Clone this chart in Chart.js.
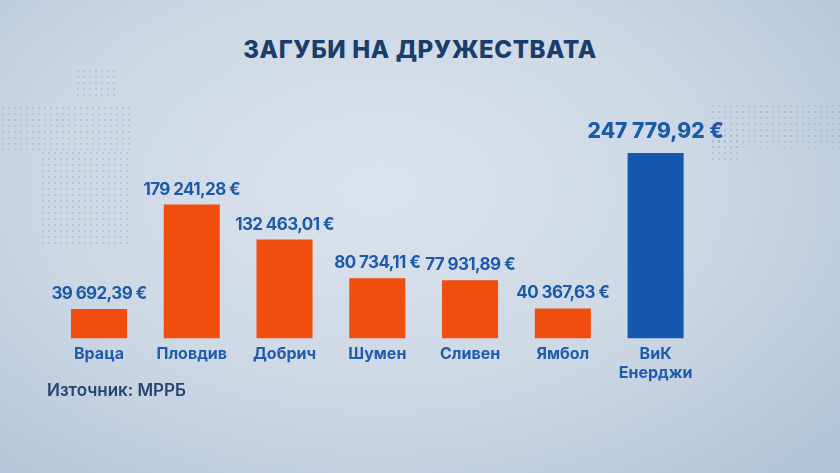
<!DOCTYPE html>
<html lang="bg">
<head>
<meta charset="UTF-8">
<title>Загуби на дружествата</title>
<script src="https://cdn.jsdelivr.net/npm/chart.js"></script>
<style>
  html, body { margin: 0; padding: 0; }
  body {
    width: 840px; height: 473px; overflow: hidden; position: relative;
    background: radial-gradient(ellipse 70% 80% at 45% 40%, #dae2ec 0%, #cdd8e5 55%, #b3c5da 100%);
    font-family: Inter, "Open Sans", sans-serif;
  }
  .dots {
    position: absolute;
    background-image: radial-gradient(circle, rgba(140,162,190,0.35) 0.8px, transparent 1.2px);
    background-size: 6px 6px;
  }
  #titulo {
    position: absolute; top: 35px; left: 0; width: 840px; text-align: center;
    font-size: 24px; font-weight: 800; color: #1a3e6c; letter-spacing: 0.6px;
  }
  #fonte {
    position: absolute; left: 47px; top: 380px;
    font-size: 17px; font-weight: 600; color: #27456d;
  }
  .grafico { position: absolute; left: 0; top: 0; width: 840px; height: 473px; }
</style>
</head>
<body>
  <div class="dots" style="left:0;top:105px;width:130px;height:45px"></div>
  <div class="dots" style="left:40px;top:150px;width:90px;height:95px"></div>
  <div class="dots" style="left:75px;top:68px;width:40px;height:30px"></div>
  <div class="dots" style="left:710px;top:103px;width:130px;height:45px"></div>
  <div class="dots" style="left:710px;top:132px;width:30px;height:30px"></div>
  <div id="titulo">ЗАГУБИ НА ДРУЖЕСТВАТА</div>
  <div class="grafico"><canvas id="myChart"></canvas></div>
  <div id="fonte">Източник: МРРБ</div>
<script>
const categorias = ['Враца', 'Пловдив', 'Добрич', 'Шумен', 'Сливен', 'Ямбол', ['ВиК', 'Енерджи']]
const valores = [39692.39, 179241.28, 132463.01, 80734.11, 77931.89, 40367.63, 247779.92]
const rotulos = ['39 692,39 €', '179 241,28 €', '132 463,01 €', '80 734,11 €', '77 931,89 €', '40 367,63 €', '247 779,92 €']

const laranja = '#f04e0e'
const azul = '#1458ad'
const cores = valores.map((v, i) => i == valores.length - 1 ? azul : laranja)

// escreve os valores em cima das barras
const valoresPlugin = {
  id: 'valores',
  afterDatasetsDraw(chart) {
    const c = chart.ctx
    const meta = chart.getDatasetMeta(0)
    c.save()
    c.textAlign = 'center'
    c.textBaseline = 'middle'
    meta.data.forEach((bar, i) => {
      const ultimo = i == meta.data.length - 1
      c.font = ultimo ? '800 21px Inter' : '700 17px Inter'
      c.letterSpacing = ultimo ? '0px' : '-0.6px'
      c.fillStyle = '#1d5aa8'
      c.fillText(rotulos[i], bar.x, bar.y - (ultimo ? 21 : 15))
    })
    c.restore()
  }
}

const ctx = document.getElementById('myChart')
const grafico = new Chart(ctx, {
  type: 'bar',
  data: {
    labels: categorias,
    datasets: [{
      data: valores,
      backgroundColor: cores,
      borderWidth: 0,
      barPercentage: 0.604,
      categoryPercentage: 1
    }]
  },
  options: {
    responsive: true,
    maintainAspectRatio: false,
    animation: false,
    layout: { padding: { left: 52.6, right: 138, top: 114, bottom: 84 } },
    plugins: { legend: { display: false }, tooltip: { enabled: false } },
    scales: {
      x: {
        grid: { display: false, drawTicks: false },
        border: { display: false },
        ticks: {
          color: '#1f5cab',
          padding: 6,
          font: { family: 'Inter', size: 16, weight: '700', lineHeight: 1.2 }
        }
      },
      y: { display: false, min: 0, max: 300000 }
    }
  },
  plugins: [valoresPlugin]
})
</script>
</body>
</html>
